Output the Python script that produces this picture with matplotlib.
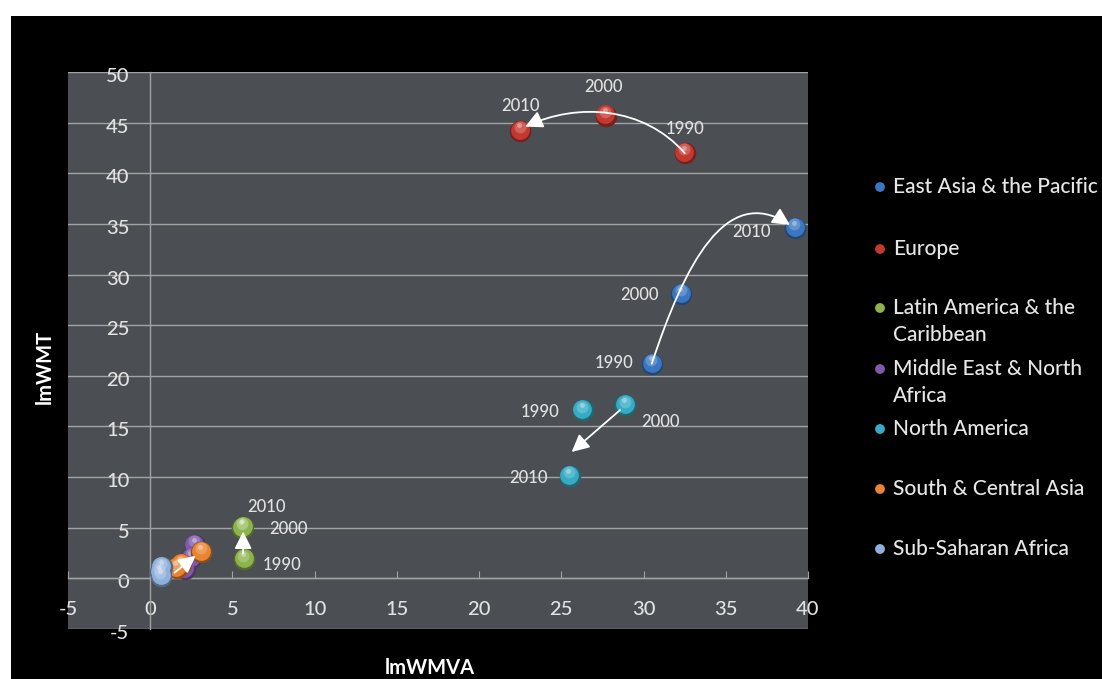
import matplotlib
matplotlib.use("Agg")
import matplotlib.pyplot as plt
import matplotlib.transforms as mtransforms
from matplotlib.patches import FancyArrowPatch, Rectangle
from matplotlib.path import Path
from matplotlib.colors import to_rgb
import numpy as np

# ---- data -------------------------------------------------------------
regions = ["East Asia & the Pacific", "Europe", "Latin America & the Caribbean",
           "Middle East & North Africa", "North America", "South & Central Asia",
           "Sub-Saharan Africa"]
legend_labels = ["East Asia & the Pacific", "Europe", "Latin America & the\nCaribbean",
                 "Middle East & North\nAfrica", "North America", "South & Central Asia",
                 "Sub-Saharan Africa"]
years = ["1990", "2000", "2010"]

east_asia_x = [30.5, 32.3, 39.2]
east_asia_y = [21.2, 28.1, 34.6]
europe_x = [32.5, 27.7, 22.5]
europe_y = [42.0, 45.7, 44.2]
latin_x = [5.7, 5.6, 5.65]
latin_y = [1.9, 5.0, 5.1]
mena_x = [2.1, 2.5, 2.7]
mena_y = [0.9, 2.0, 3.3]
north_am_x = [26.3, 28.9, 25.5]
north_am_y = [16.6, 17.1, 10.1]
sca_x = [1.6, 1.9, 3.1]
sca_y = [1.0, 1.4, 2.6]
ssa_x = [0.65, 0.6, 0.7]
ssa_y = [0.2, 0.6, 1.1]

x_ticks = [-5, 0, 5, 10, 15, 20, 25, 30, 35, 40]
y_ticks = [-5, 0, 5, 10, 15, 20, 25, 30, 35, 40, 45, 50]

colors = ["#3b76c0", "#c4392f", "#8bb44c", "#8059ab", "#35abc4", "#ea8432", "#90b0dc"]

# ---- figure -----------------------------------------------------------
W, H = 1102, 679
fig = plt.figure(figsize=(W / 100, H / 100), dpi=100, facecolor="white")

# full-figure overlay axes used for the black backdrop and legend dots
bg = fig.add_axes([0, 0, 1, 1], zorder=-5)
bg.set_xlim(0, W)
bg.set_ylim(H, 0)
bg.axis("off")
bg.add_patch(Rectangle((11, 16), W - 11, H - 16, facecolor="black", edgecolor="none"))

ax = fig.add_axes([68 / W, 1 - 629 / H, (808 - 68) / W, (629 - 72) / H])
ax.set_facecolor("#4b4f53")
ax.set_xlim(-5, 40)
ax.set_ylim(-5, 50)

FONT = "Lato"
TXT = "#e2e2e2"
GRID = "#a3a3a3"

ax.set_yticks(y_ticks)
ax.set_xticks(x_ticks)
ax.set_yticklabels([str(v) for v in y_ticks])
ax.set_xticklabels([str(v) for v in x_ticks])
ax.yaxis.grid(True, color=GRID, linewidth=1.0, zorder=1)
ax.set_axisbelow(True)
for s in ["top", "right"]:
    ax.spines[s].set_visible(False)
ax.spines["left"].set_position(("data", 0))
ax.spines["bottom"].set_position(("data", 0))
for s in ["left", "bottom"]:
    ax.spines[s].set_color(GRID)
    ax.spines[s].set_linewidth(1.0)
ax.tick_params(axis="x", direction="in", length=5, color=GRID, pad=16,
               labelsize=14.5, labelcolor=TXT)
ax.tick_params(axis="y", direction="in", length=0, color=GRID, pad=15,
               labelsize=14.5, labelcolor=TXT)
for lab in ax.get_xticklabels() + ax.get_yticklabels():
    lab.set_fontfamily(FONT)
    lab.set_fontweight("medium")
# y labels sit a touch below their gridlines
ylab_shift = mtransforms.ScaledTranslation(0, -3 / 100, fig.dpi_scale_trans)
for lab in ax.get_yticklabels():
    lab.set_transform(lab.get_transform() + ylab_shift)


def sphere(xs, ys, color, z, size=240):
    base = np.array(to_rgb(color))
    ax.scatter(xs, ys, s=size, color=base * 0.6, linewidths=0, zorder=z)
    t1 = mtransforms.offset_copy(ax.transData, fig=fig, x=-0.2, y=0.8, units="points")
    ax.scatter(xs, ys, s=size * 0.76, color=base, linewidths=0, zorder=z + 0.1, transform=t1)
    t2 = mtransforms.offset_copy(ax.transData, fig=fig, x=-0.5, y=2.6, units="points")
    ax.scatter(xs, ys, s=size * 0.3, color=base + (1 - base) * 0.35, alpha=0.6,
               linewidths=0, zorder=z + 0.2, transform=t2)
    t3 = mtransforms.offset_copy(ax.transData, fig=fig, x=-0.8, y=3.8, units="points")
    ax.scatter(xs, ys, s=size * 0.05, color="white", alpha=0.35,
               linewidths=0, zorder=z + 0.3, transform=t3)


series_x = [east_asia_x, europe_x, latin_x, mena_x, north_am_x, sca_x, ssa_x]
series_y = [east_asia_y, europe_y, latin_y, mena_y, north_am_y, sca_y, ssa_y]
for i, (xs, ys) in enumerate(zip(series_x, series_y)):
    sphere(xs, ys, colors[i], z=3 + i * 0.5)

# ---- year labels (pixel offsets from each point) -----------------------
label_offsets = {
    1: [(0, 24), (-2, 29), (0, 25)],        # Europe
    0: [(-38, 1), (-42, -1), (-43, -4)],    # East Asia
    4: [(-43, -2), (35, -17), (-41, -2)],   # North America
    2: [(38, -6), (46, -1), (23, 20)],      # Latin America
}
for si, offs in label_offsets.items():
    for k, (dx, dy) in enumerate(offs):
        ax.annotate(years[k], (series_x[si][k], series_y[si][k]),
                    xytext=(dx * 0.72, dy * 0.72), textcoords="offset points",
                    ha="center", va="center", fontsize=12, color=TXT,
                    family=FONT, fontweight="medium", zorder=10)

# ---- trajectory arrows -------------------------------------------------
ARROW = dict(arrowstyle="-|>,head_length=0.7,head_width=0.35", mutation_scale=15,
             color="white", linewidth=1.3, zorder=12)


def curve(points):
    codes = [Path.MOVETO] + [Path.CURVE4] * (len(points) - 1)
    ax.add_patch(FancyArrowPatch(path=Path(points, codes), **ARROW))


# Europe: 1990 -> 2010 arching over 2000
curve([(europe_x[0], europe_y[0]), (30.0, 46.6), (26.0, 47.0),
       (europe_x[2] + 0.3, europe_y[2] + 0.4)])
# East Asia: 1990 -> 2010 through 2000
curve([(east_asia_x[0], east_asia_y[0]), (32.5, 31.0), (35.0, 39.0),
       (east_asia_x[2] - 0.3, east_asia_y[2] + 0.3)])
# North America: 2000 -> 2010
ax.add_patch(FancyArrowPatch((north_am_x[1] - 0.2, north_am_y[1] - 0.3),
                             (25.5, 12.3), **ARROW))
# Latin America: 1990 -> 2000
ax.add_patch(FancyArrowPatch((latin_x[0] - 0.05, latin_y[0] + 0.3),
                             (latin_x[0] - 0.05, 4.9), **ARROW))
# South & Central Asia
ax.add_patch(FancyArrowPatch((1.35, 0.4), (2.9, 2.4), **ARROW))

# ---- axis titles ------------------------------------------------------
fig.text(430 / W, 1 - 668 / H, "lmWMVA", ha="center", va="center", fontsize=14.5,
         fontweight="bold", color="white", family=FONT)
fig.text(45 / W, 1 - 367 / H, "lmWMT", ha="center", va="center", fontsize=14.5,
         fontweight="bold", color="white", family=FONT, rotation=90)

# ---- legend -----------------------------------------------------------
legend_y = [187, 249, 308, 369, 429, 489, 549]
bg.scatter([880] * len(legend_y), legend_y, s=50, c=colors, linewidths=0)
for i, lab in enumerate(legend_labels):
    bg.text(893, legend_y[i] - 10, lab, ha="left", va="top",
            fontsize=15, color="#e6e6e6", family=FONT, fontweight="medium",
            linespacing=1.42)

fig.savefig("out.png", dpi=100, facecolor=fig.get_facecolor())
